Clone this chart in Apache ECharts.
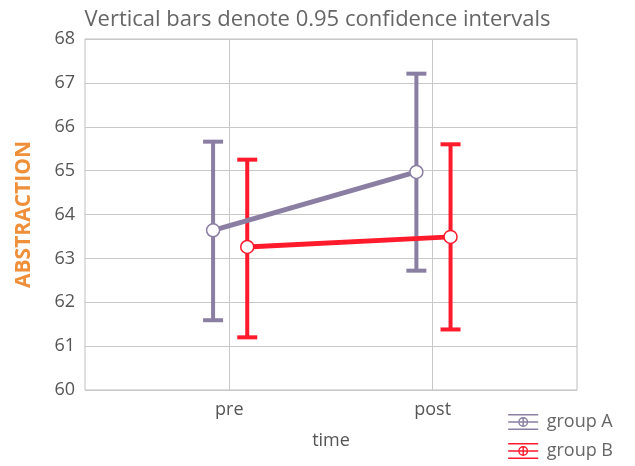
<!DOCTYPE html>
<html>
<head>
<meta charset="utf-8">
<script src="https://cdn.jsdelivr.net/npm/echarts@6/dist/echarts.min.js"></script>
<style>
  html, body { margin: 0; padding: 0; background: #fff; }
  #main { width: 635px; height: 466px; }
</style>
</head>
<body>
<div id="main"></div>
<script>
// time points
var categories = ['pre', 'post'];
// group means and 0.95 CI bounds
var meanA  = [63.64, 64.97];
var lowerA = [61.59, 62.72];
var upperA = [65.66, 67.21];
var meanB  = [63.26, 63.49];
var lowerB = [61.20, 61.38];
var upperB = [65.25, 65.60];

var colorA = '#8b7ea3',
    colorB = '#ff1a2c';
// little dodge so the two groups don't sit on top of each other
var shiftA = -0.08, shiftB = 0.088;

var legendIcon = 'path://M0,0H30V1.5H0Z M0,14.5H30V16H0Z M0,7.25H10V8.75H0Z M20,7.25H30V8.75H20Z' +
  ' M20,8A5,5 0 1,1 10,8A5,5 0 1,1 20,8Z M18.6,8A3.6,3.6 0 1,0 11.4,8A3.6,3.6 0 1,0 18.6,8Z' +
  ' M11.4,7.3H18.6V8.7H11.4Z M14.3,3.4H15.7V12.6H14.3Z';

function points(mean, shift){
  var out = [];
  for(var i=0;i<mean.length;i++) out.push([i+shift, mean[i]]);
  return out;
}
function bars(lo, hi, shift){
  var out = [];
  for(var i=0;i<lo.length;i++) out.push([i+shift, lo[i], hi[i]]);
  return out;
}
function errorBar(color){
  return function(params, api){
    var x = api.value(0);
    var lo = api.coord([x, api.value(1)]);
    var hi = api.coord([x, api.value(2)]);
    var half = 10;
    var style = { stroke: color, lineWidth: 4 };
    return {
      type: 'group',
      children: [
        { type: 'line', shape: { x1: lo[0], y1: lo[1], x2: hi[0], y2: hi[1] }, style: style },
        { type: 'line', shape: { x1: lo[0]-half, y1: lo[1], x2: lo[0]+half, y2: lo[1] }, style: style },
        { type: 'line', shape: { x1: hi[0]-half, y1: hi[1], x2: hi[0]+half, y2: hi[1] }, style: style }
      ]
    };
  };
}

var chart = echarts.init(document.getElementById('main'));
chart.setOption({
  animation: false,
  textStyle: { fontFamily: 'Open Sans' },
  title: {
    text: 'Vertical bars denote 0.95 confidence intervals',
    left: 'center', top: 4,
    textStyle: { fontSize: 22, fontWeight: 'normal', color: '#666', fontFamily: 'Open Sans' }
  },
  grid: {
    left: 85, right: 58, top: 39, bottom: 76,
    outerBoundsMode: 'none', containLabel: false,
    show: true, borderColor: '#bdbdbd', borderWidth: 1
  },
  legend: {
    orient: 'vertical', right: 17, bottom: 1,
    itemWidth: 31, itemHeight: 16, itemGap: 11,
    icon: legendIcon,
    data: ['group A', 'group B'],
    textStyle: { fontSize: 18, color: '#666', fontFamily: 'Open Sans', padding: [0, 0, 0, 3] }
  },
  xAxis: {
    type: 'value', min: -0.71, max: 1.71,
    name: 'time', nameLocation: 'middle', nameGap: 42,
    nameTextStyle: { fontSize: 18, color: '#555' },
    axisLine: { show: false },
    axisTick: { show: false, customValues: [0, 1] },
    axisLabel: {
      customValues: [0, 1], margin: 11,
      fontSize: 18, color: '#555',
      formatter: function(v){ return categories[Math.round(v)]; }
    },
    splitLine: { show: true, lineStyle: { color: '#c8c8c8' } }
  },
  yAxis: {
    type: 'value', min: 60, max: 68, interval: 1,
    name: 'ABSTRACTION', nameLocation: 'middle', nameGap: 50,
    nameTextStyle: { fontSize: 21, fontWeight: 'bold', color: '#ef8f3a' },
    axisLine: { show: false },
    axisTick: { show: false },
    axisLabel: { fontSize: 18, color: '#555', margin: 10 },
    splitLine: { lineStyle: { color: '#c8c8c8' } }
  },
  series: [
    {
      name: 'group A', type: 'custom', renderItem: errorBar(colorA),
      itemStyle: { color: colorA }, data: bars(lowerA, upperA, shiftA), z: 2
    },
    {
      name: 'group B', type: 'custom', renderItem: errorBar(colorB),
      itemStyle: { color: colorB }, data: bars(lowerB, upperB, shiftB), z: 2
    },
    {
      name: 'group A', type: 'line', data: points(meanA, shiftA), z: 3,
      color: colorA, lineStyle: { width: 5, color: colorA },
      symbol: 'circle', symbolSize: 13,
      itemStyle: { color: '#fff', borderColor: colorA, borderWidth: 1.5 }
    },
    {
      name: 'group B', type: 'line', data: points(meanB, shiftB), z: 3,
      color: colorB, lineStyle: { width: 5, color: colorB },
      symbol: 'circle', symbolSize: 13,
      itemStyle: { color: '#fff', borderColor: colorB, borderWidth: 1.5 }
    }
  ]
});
</script>
</body>
</html>
